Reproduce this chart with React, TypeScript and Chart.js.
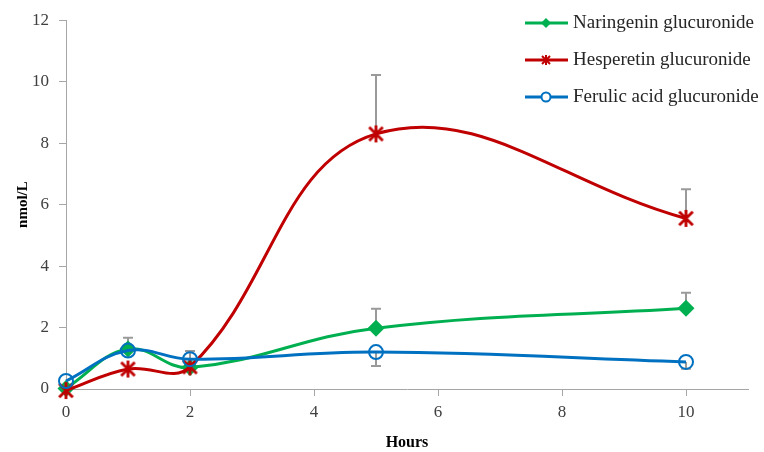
import React, { useEffect, useRef } from "react";
import { Chart, registerables } from "chart.js";

Chart.register(...registerables);

const hours = [0, 1, 2, 5, 10];
const naringenin = [0.02, 1.3, 0.7, 1.98, 2.63];
const hesperetin = [-0.05, 0.65, 0.72, 8.3, 5.55];
const ferulic = [0.26, 1.25, 0.97, 1.2, 0.88];

// error bars: [upper, lower] magnitudes (null = not shown)
const naringeninErrUp = [null, 0.37, null, 0.63, 0.5];
const hesperetinErrUp = [null, null, null, 1.92, 0.95];
const ferulicErrUp = [null, null, 0.27, null, null];
const ferulicErrDown = [null, null, null, 0.45, 0.22];

const seriesNames = ["Naringenin glucuronide", "Hesperetin glucuronide", "Ferulic acid glucuronide"];
const xTicks = [0, 2, 4, 6, 8, 10];

const GREEN = "#00B050";
const RED = "#C00000";
const BLUE = "#0070C0";
const GRAY = "#A6A6A6";
const FONT = "'Liberation Serif', 'Times New Roman', serif";

function makeStar(size: number, color: string, lw: number) {
  const c = document.createElement("canvas");
  c.width = size;
  c.height = size;
  const g = c.getContext("2d")!;
  g.strokeStyle = color;
  g.lineWidth = lw;
  const m = size / 2;
  const r = size / 2 - 1;
  g.beginPath();
  g.moveTo(m - r * 0.8, m - r * 0.8);
  g.lineTo(m + r * 0.8, m + r * 0.8);
  g.moveTo(m + r * 0.8, m - r * 0.8);
  g.lineTo(m - r * 0.8, m + r * 0.8);
  g.moveTo(m, m - r);
  g.lineTo(m, m + r);
  g.stroke();
  return c;
}

export default function App() {
  const ref = useRef<HTMLCanvasElement>(null);
  useEffect(() => {
    document.body.style.margin = "0";
    const star = makeStar(19, RED, 2.8);
    const errSets = [
      { up: naringeninErrUp, down: null as any },
      { up: hesperetinErrUp, down: null as any },
      { up: ferulicErrUp, down: ferulicErrDown },
    ];
    const errorPlugin = {
      id: "errbars",
      beforeDatasetsDraw(chart: any) {
        const { ctx, scales } = chart;
        const xs = scales.x;
        const ys = scales.y;
        ctx.save();
        ctx.strokeStyle = "#9A9A9A";
        ctx.lineWidth = 2;
        chart.data.datasets.forEach((ds: any, i: number) => {
          const e = errSets[i];
          ds.data.forEach((p: any, j: number) => {
            const px = xs.getPixelForValue(p.x);
            const py = ys.getPixelForValue(p.y);
            const draw = (v: number | null, sign: number) => {
              if (v == null) return;
              const ey = ys.getPixelForValue(p.y + sign * v);
              ctx.beginPath();
              ctx.moveTo(px, py);
              ctx.lineTo(px, ey);
              ctx.moveTo(px - 5, ey);
              ctx.lineTo(px + 5, ey);
              ctx.stroke();
            };
            draw(e.up ? e.up[j] : null, 1);
            draw(e.down ? e.down[j] : null, -1);
          });
        });
        ctx.restore();
      },
    };
    const legendPlugin = {
      id: "customLegend",
      afterDraw(chart: any) {
        const { ctx } = chart;
        const rows = [23, 60, 97];
        const x0 = 525;
        const x1 = 568;
        const mx = 546;
        ctx.save();
        chart.data.datasets.forEach((ds: any, i: number) => {
          const y = rows[i];
          ctx.strokeStyle = ds.borderColor;
          ctx.lineWidth = 3;
          ctx.beginPath();
          ctx.moveTo(x0, y);
          ctx.lineTo(x1, y);
          ctx.stroke();
          if (i === 0) {
            ctx.fillStyle = GREEN;
            ctx.beginPath();
            ctx.moveTo(mx, y - 5);
            ctx.lineTo(mx + 5, y);
            ctx.lineTo(mx, y + 5);
            ctx.lineTo(mx - 5, y);
            ctx.closePath();
            ctx.fill();
          } else if (i === 1) {
            ctx.drawImage(makeStar(12, RED, 2), mx - 6, y - 6);
          } else {
            ctx.strokeStyle = BLUE;
            ctx.lineWidth = 2;
            ctx.fillStyle = "white";
            ctx.beginPath();
            ctx.arc(mx, y, 4.5, 0, Math.PI * 2);
            ctx.fill();
            ctx.stroke();
          }
          ctx.fillStyle = "#262626";
          ctx.font = `19px ${FONT}`;
          ctx.textBaseline = "middle";
          ctx.textAlign = "left";
          ctx.fillText(seriesNames[i], 573, y);
        });
        ctx.restore();
      },
    };
    const toPts = (arr: number[]) => hours.map((h, i) => ({ x: h, y: arr[i] }));
    const chart = new Chart(ref.current!, {
      type: "line",
      data: {
        datasets: [
          {
            label: seriesNames[0],
            data: toPts(naringenin),
            borderColor: GREEN,
            backgroundColor: GREEN,
            borderWidth: 3,
            pointStyle: "rectRot",
            pointRadius: 8.5,
            pointBorderWidth: 0,
            tension: 0.4,
            order: 2,
          },
          {
            label: seriesNames[1],
            data: toPts(hesperetin),
            borderColor: RED,
            backgroundColor: RED,
            borderWidth: 3,
            pointStyle: star as any,
            pointRadius: 9,
            tension: 0.4,
            order: 1,
          },
          {
            label: seriesNames[2],
            data: toPts(ferulic),
            borderColor: BLUE,
            backgroundColor: "rgba(0,0,0,0)",
            borderWidth: 3,
            pointStyle: "circle",
            pointRadius: 7,
            pointBorderWidth: 2,
            tension: 0.4,
            order: 0,
          },
        ],
      },
      options: {
        animation: false,
        responsive: false,
        clip: false as any,
        layout: { padding: { left: 0, top: 18, right: 16, bottom: 0 } },
        plugins: { legend: { display: false }, tooltip: { enabled: false } },
        scales: {
          x: {
            type: "linear",
            min: 0,
            max: 11,
            afterBuildTicks: (s: any) => {
              s.ticks = xTicks.map((v) => ({ value: v }));
            },
            ticks: { font: { family: FONT, size: 17 }, color: "#404040", padding: 6 },
            grid: { drawOnChartArea: false, tickLength: 7, color: GRAY, tickColor: GRAY },
            border: { color: GRAY, width: 1 },
            title: {
              display: true,
              text: "Hours",
              font: { family: FONT, size: 16, weight: "bold" },
              color: "#000",
              padding: { top: 6, bottom: 0 },
            },
            afterFit: (s: any) => {
              s.height = 63;
            },
          },
          y: {
            min: 0,
            max: 12,
            ticks: { stepSize: 2, font: { family: FONT, size: 17 }, color: "#404040", padding: 10 },
            grid: { drawOnChartArea: false, tickLength: 7, color: GRAY, tickColor: GRAY },
            border: { color: GRAY, width: 1 },
            title: {
              display: true,
              text: "nmol/L",
              font: { family: FONT, size: 15, weight: "bold" },
              color: "#000",
              padding: { top: 14, bottom: 0 },
            },
            afterFit: (s: any) => {
              s.width = 66;
            },
          },
        },
      },
      plugins: [errorPlugin, legendPlugin],
    });
    return () => chart.destroy();
  }, []);
  return (
    <div style={{ width: 764, height: 452 }}>
      <canvas ref={ref} width={764} height={452} />
    </div>
  );
}
